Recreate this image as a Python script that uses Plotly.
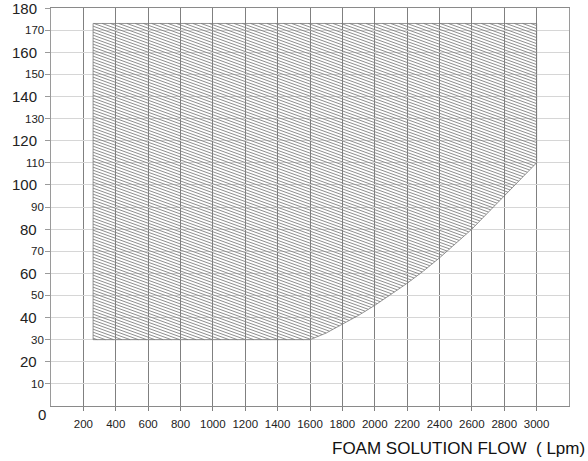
import numpy as np
import plotly.graph_objects as go

# ---- data ----
flow_min = 260          # left edge of the operating region (Lpm)
flow_max = 3000         # right edge (Lpm)
pressure_top = 173      # upper limit
pressure_bottom = 30    # lower limit (flat part)
curve_flow = [1600, 1700, 1800, 1900, 2000, 2100, 2200, 2300, 2400, 2500, 2600, 2700, 2800, 2900, 3000]
curve_pressure = [30, 33, 37, 41, 45.5, 50.5, 55.5, 61, 67, 73.5, 80, 87.5, 95, 102.5, 110]

x_ticks = list(range(200, 3001, 200))
y_ticks = list(range(10, 181, 10))

# ---- layout geometry (style) ----
W, H = 588, 461
ML, MR, MT, MB = 51, 19, 8, 55
X_RANGE = [0, 3200]
Y_RANGE = [0, 180]
plot_w = W - ML - MR
plot_h = H - MT - MB
px_per_x = plot_w / (X_RANGE[1] - X_RANGE[0])
px_per_y = plot_h / (Y_RANGE[1] - Y_RANGE[0])

# region outline
lower_x = [flow_min] + curve_flow
lower_y = [pressure_bottom] + curve_pressure
poly_x = lower_x + [flow_max, flow_min, flow_min]
poly_y = lower_y + [pressure_top, pressure_top, pressure_bottom]

# ---- hatching: lines clipped to the region (style: angle + spacing in pixels) ----
hatch_angle_deg = 20.0
hatch_spacing_px = 3.0
slope = np.tan(np.radians(hatch_angle_deg)) * px_per_x / px_per_y   # pressure units per Lpm (descending)
dc = hatch_spacing_px / px_per_y
xs = np.linspace(flow_min, flow_max, 6000)
low = np.interp(xs, lower_x, lower_y)
hx, hy = [], []
c = pressure_bottom + dc * 0.5
c_max = pressure_top + slope * (flow_max - flow_min)
while c < c_max:
    p = c - slope * (xs - flow_min)
    inside = (p <= pressure_top) & (p >= low)
    if inside.any():
        idx = np.where(inside)[0]
        x0, x1 = xs[idx[0]], xs[idx[-1]]
        if c > pressure_top:
            x0 = flow_min + (c - pressure_top) / slope
        hx += [x0, x1, None]
        hy += [c - slope * (x0 - flow_min), c - slope * (x1 - flow_min), None]
    c += dc

fig = go.Figure()
fig.add_trace(go.Scatter(
    x=hx, y=hy, mode="lines", line=dict(color="#808080", width=0.9),
    hoverinfo="skip", showlegend=False,
))
fig.add_trace(go.Scatter(
    x=poly_x, y=poly_y, mode="lines",
    line=dict(color="#7a7a7a", width=0.8),
    hoverinfo="skip", showlegend=False,
))

font_family = "Liberation Sans, Arial, sans-serif"

annotations = []
for v in y_ticks:
    big = (v % 20 == 0)
    annotations.append(dict(
        x=0, xref="paper", y=v, yref="y", text=str(v), showarrow=False,
        xanchor="right", yanchor="middle",
        xshift=-12 if big else -5,
        font=dict(size=15 if big else 11.5, color="#222222", family=font_family),
    ))
annotations.append(dict(x=0, xref="paper", y=0, yref="y", text="0", showarrow=False,
                        xanchor="right", yanchor="middle", xshift=-3, yshift=-8,
                        font=dict(size=15, color="#222222", family=font_family)))
annotations.append(dict(x=1, xref="paper", y=0, yref="paper",
                        text="FOAM SOLUTION FLOW&nbsp;&nbsp;(&nbsp;Lpm)",
                        showarrow=False, xanchor="right", yanchor="middle", xshift=18, yshift=-42,
                        font=dict(size=17, color="#111111", family=font_family)))

fig.update_layout(
    width=W, height=H,
    margin=dict(l=ML, r=MR, t=MT, b=MB),
    paper_bgcolor="white", plot_bgcolor="white",
    annotations=annotations,
    xaxis=dict(range=X_RANGE, tickvals=x_ticks, ticktext=[str(v) for v in x_ticks],
               showgrid=True, gridcolor="#808080", gridwidth=1,
               zeroline=False, showline=True, linecolor="#8a8a8a", linewidth=1, mirror=True,
               ticks="outside", ticklen=4, tickcolor="#808080", ticklabelstandoff=3,
               tickfont=dict(size=11.5, color="#222222", family=font_family)),
    yaxis=dict(range=Y_RANGE, tickvals=y_ticks, showticklabels=False,
               showgrid=True, gridcolor="#d6d6d6", gridwidth=1,
               zeroline=False, showline=True, linecolor="#9a9a9a", linewidth=1, mirror=True,
               ticks="outside", ticklen=5, tickcolor="#9a9a9a"),
)

fig.write_html("out.html", config={"displayModeBar": False},
               post_script="document.body.style.margin='0px';")
